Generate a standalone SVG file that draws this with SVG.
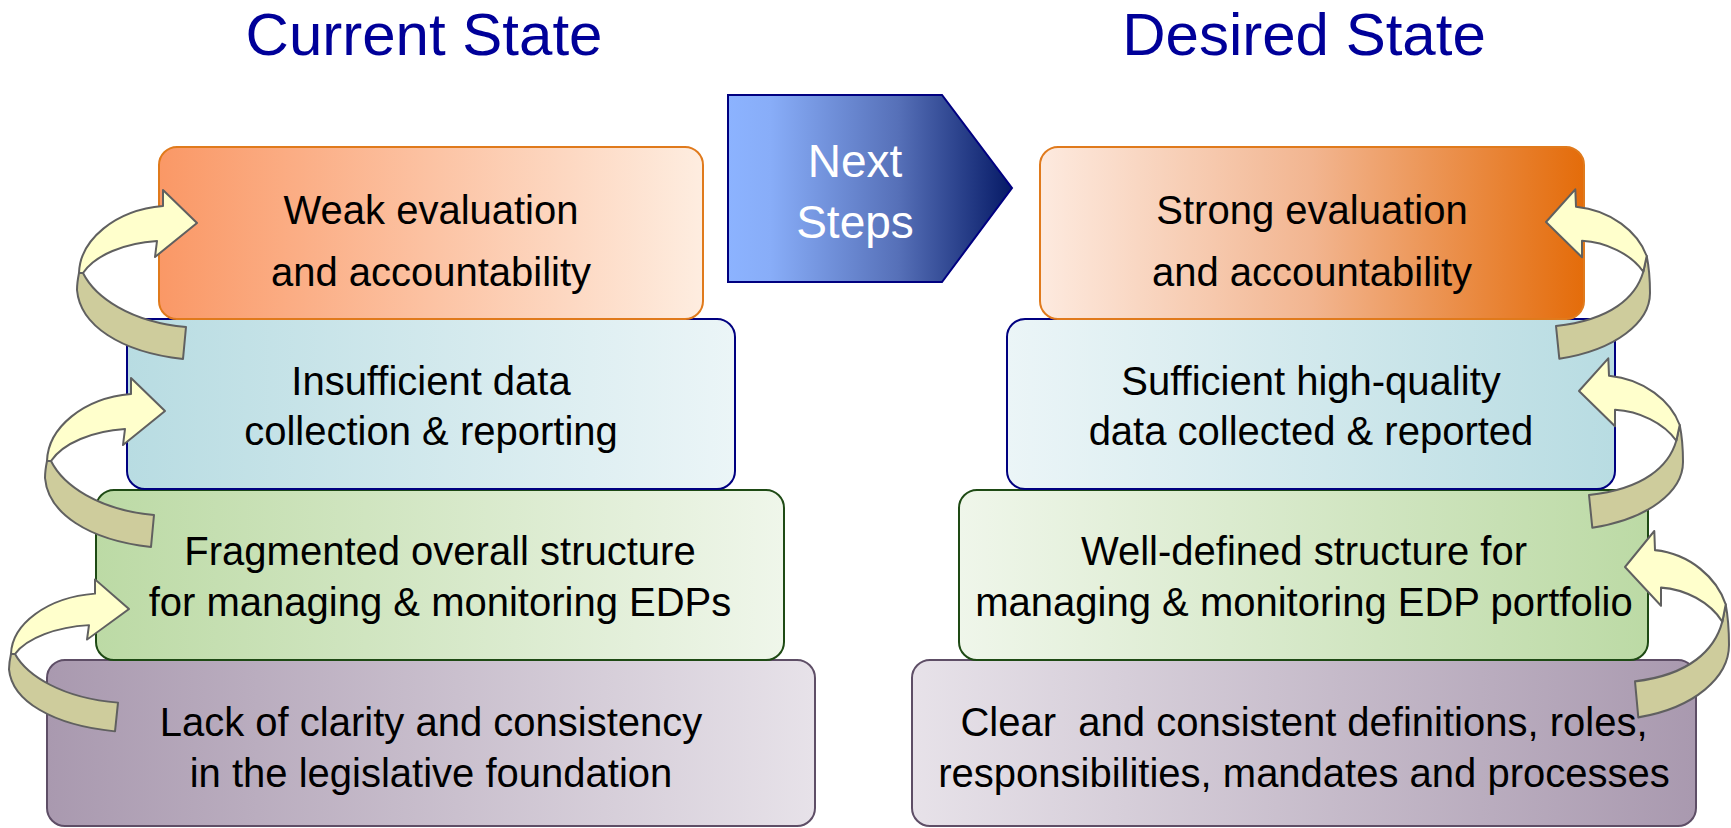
<svg xmlns="http://www.w3.org/2000/svg" width="1731" height="828" viewBox="0 0 1731 828">
<defs>
<linearGradient id="gOrL" x1="0" y1="0" x2="1" y2="0"><stop offset="0" stop-color="#FA9866"/><stop offset="1" stop-color="#FEEDE0"/></linearGradient>
<linearGradient id="gOrR" x1="0" y1="0" x2="1" y2="0"><stop offset="0" stop-color="#FDEADF"/><stop offset="0.5" stop-color="#F2B590"/><stop offset="1" stop-color="#E46C0A"/></linearGradient>
<linearGradient id="gBlL" x1="0" y1="0" x2="1" y2="0"><stop offset="0" stop-color="#B8DCE2"/><stop offset="1" stop-color="#EBF5F7"/></linearGradient>
<linearGradient id="gBlR" x1="0" y1="0" x2="1" y2="0"><stop offset="0" stop-color="#EBF5F7"/><stop offset="1" stop-color="#B8DCE2"/></linearGradient>
<linearGradient id="gGrL" x1="0" y1="0" x2="1" y2="0"><stop offset="0" stop-color="#BCDAA5"/><stop offset="1" stop-color="#EFF6EA"/></linearGradient>
<linearGradient id="gGrR" x1="0" y1="0" x2="1" y2="0"><stop offset="0" stop-color="#EFF6EA"/><stop offset="1" stop-color="#BCDAA5"/></linearGradient>
<linearGradient id="gPuL" x1="0" y1="0" x2="1" y2="0"><stop offset="0" stop-color="#A999AF"/><stop offset="1" stop-color="#E7E2E9"/></linearGradient>
<linearGradient id="gPuR" x1="0" y1="0" x2="1" y2="0"><stop offset="0" stop-color="#E7E2E9"/><stop offset="1" stop-color="#A999AF"/></linearGradient>
<linearGradient id="gNext" x1="0" y1="0" x2="1" y2="0"><stop offset="0" stop-color="#8CB3FF"/><stop offset="0.15" stop-color="#88ADF8"/><stop offset="0.6" stop-color="#5670B8"/><stop offset="1" stop-color="#061A66"/></linearGradient>
<path id="armL" d="M-34,-17 L-34,-33 L0,0 L-42,34 L-40,18 C-72,20 -102,32 -114,50 L-118,50 C-117,17 -82,-13 -34,-17 Z"/>
<path id="tailL" d="M-114,50 C-102,74 -67,99 -11,104 L-14,136 C-77,129 -117,102 -120,67 C-120,60 -119,55 -118,50 Z"/>
<path id="armR" d="M30,-15.3 L29.3,-32.7 L0,0 L36,35.3 L36,18.7 C60,20 85,32 97.3,49.7 L100.7,34 C92,10 65,-12 30,-15.3 Z"/>
<path id="tailR" d="M97.3,49.7 C90,75 65,98 10,104 L13.3,136.7 C70,128 104,100 104,71 C104,58 103,45 100.7,34 Z"/>
</defs>
<style>
.title{font-family:"Liberation Sans",Arial,sans-serif;font-size:60px;fill:#000099;text-anchor:middle}
.lbl{font-family:"Liberation Sans",Arial,sans-serif;font-size:40px;fill:#000000;text-anchor:middle}
.nxt{font-family:"Liberation Sans",Arial,sans-serif;font-size:46px;fill:#FFFFFF;text-anchor:middle}
.or{stroke:#E07A1C;stroke-width:2}
.bl{stroke:#000080;stroke-width:2}
.gr{stroke:#1E4A14;stroke-width:2}
.pu{stroke:#5E4E66;stroke-width:2}
.yel{fill:#FFFFCC;stroke:#606060;stroke-width:2;stroke-linejoin:round}
.kha{fill:#CECC9C;stroke:#606060;stroke-width:2;stroke-linejoin:round}
</style>
<rect width="1731" height="828" fill="#FFFFFF"/>
<g id="title-current"><text class="title" x="424" y="55">Current State</text></g>
<g id="title-desired"><text class="title" x="1304" y="55">Desired State</text></g>

<g id="cur-legislative">
<rect class="pu" x="47" y="660" width="768" height="166" rx="18" fill="url(#gPuL)"/>
<text class="lbl" x="431" y="736">Lack of clarity and consistency</text>
<text class="lbl" x="431" y="787">in the legislative foundation</text>
</g>
<g id="cur-structure">
<rect class="gr" x="96" y="490" width="688" height="170" rx="18" fill="url(#gGrL)"/>
<text class="lbl" x="440" y="565">Fragmented overall structure</text>
<text class="lbl" x="440" y="616">for managing &amp; monitoring EDPs</text>
</g>
<g id="cur-data">
<rect class="bl" x="127" y="319" width="608" height="170" rx="18" fill="url(#gBlL)"/>
<text class="lbl" x="431" y="395">Insufficient data</text>
<text class="lbl" x="431" y="445">collection &amp; reporting</text>
</g>
<g id="cur-evaluation">
<rect class="or" x="159" y="147" width="544" height="172" rx="18" fill="url(#gOrL)"/>
<text class="lbl" x="431" y="224">Weak evaluation</text>
<text class="lbl" x="431" y="286">and accountability</text>
</g>

<g id="next-steps">
<polygon points="728,95 942,95 1012,188 942,282 728,282" fill="url(#gNext)" stroke="#000080" stroke-width="2"/>
<text class="nxt" x="855" y="177">Next</text>
<text class="nxt" x="855" y="238">Steps</text>
</g>

<g id="des-definitions">
<rect class="pu" x="912" y="660" width="784" height="166" rx="18" fill="url(#gPuR)"/>
<text class="lbl" x="1304" y="736" xml:space="preserve">Clear  and consistent definitions, roles,</text>
<text class="lbl" x="1304" y="787">responsibilities, mandates and processes</text>
</g>
<g id="des-structure">
<rect class="gr" x="959" y="490" width="689" height="170" rx="18" fill="url(#gGrR)"/>
<text class="lbl" x="1304" y="565">Well-defined structure for</text>
<text class="lbl" x="1304" y="616">managing &amp; monitoring EDP portfolio</text>
</g>
<g id="des-data">
<rect class="bl" x="1007" y="319" width="608" height="170" rx="18" fill="url(#gBlR)"/>
<text class="lbl" x="1311" y="395">Sufficient high-quality</text>
<text class="lbl" x="1311" y="445">data collected &amp; reported</text>
</g>
<g id="des-evaluation">
<rect class="or" x="1040" y="147" width="544" height="172" rx="18" fill="url(#gOrR)"/>
<text class="lbl" x="1312" y="224">Strong evaluation</text>
<text class="lbl" x="1312" y="286">and accountability</text>
</g>

<g id="connectors">
<g transform="translate(197,223)"><use href="#tailL" class="kha"/><use href="#armL" class="yel"/></g>
<g transform="translate(165,411)"><use href="#tailL" class="kha"/><use href="#armL" class="yel"/></g>
<g transform="translate(129,609) scale(1,0.9)"><use href="#tailL" class="kha"/><use href="#armL" class="yel"/></g>
<g transform="translate(1546,222)"><use href="#tailR" class="kha"/><use href="#armR" class="yel"/></g>
<g transform="translate(1579,391)"><use href="#tailR" class="kha"/><use href="#armR" class="yel"/></g>
<g transform="translate(1625,567) scale(1,1.1)"><use href="#tailR" class="kha"/><use href="#armR" class="yel"/></g>
</g>
</svg>
